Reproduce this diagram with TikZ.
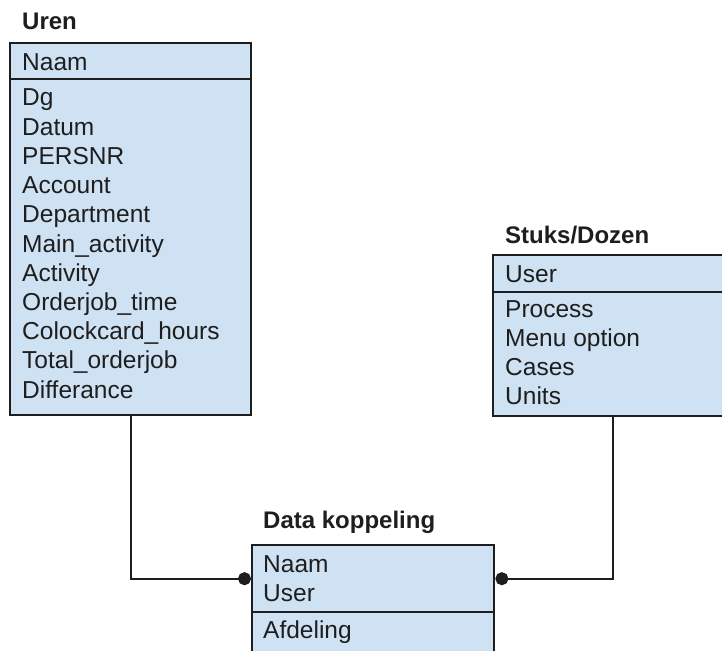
\documentclass[tikz,border=0pt]{standalone}
\usepackage{fontspec}
\setmainfont{Liberation Sans}
\usetikzlibrary{arrows.meta}
\definecolor{tablefill}{HTML}{CFE2F3}
\definecolor{ink}{HTML}{1E1E1E}

\begin{document}
\begin{tikzpicture}[
  x=1pt, y=-1pt,
  every node/.style = {font=\fontsize{24.5}{29}\selectfont, text=ink},
  title/.style = {anchor=base west, inner sep=0pt, font=\fontsize{24}{29}\selectfont\bfseries},
  cell/.style = {draw=ink, line width=2.4pt, fill=tablefill, anchor=north west, inner sep=0pt},
  field/.style = {anchor=base west, inner sep=0pt},
  link/.style = {draw=ink, line width=2.2pt}
]
  \useasboundingbox (0,0) rectangle (722,650);
  \clip (0,0) rectangle (722,650);

  % Uren
  \node[title] (uren) at (22,30) {Uren};
  \node[cell, minimum width=241, minimum height=36] (uren-head) at (9,42) {};
  \node[cell, minimum width=241, minimum height=336] (uren-body) at (9,78) {};
  \node[field] (uren-key) at (22,71) {Naam};
  \foreach \f [count=\i] in {Dg,Datum,PERSNR,Account,Department,Main\_activity,
      Activity,Orderjob\_time,Colockcard\_hours,Total\_orderjob,Differance}
    \node[field] (uren-\i) at (22,{106+29.2*(\i-1)}) {\f};

  % Stuks/Dozen
  \node[title] (stuks) at (505,243) {Stuks/Dozen};
  \node[cell, minimum width=240, minimum height=37] (stuks-head) at (492,254) {};
  \node[cell, minimum width=240, minimum height=124] (stuks-body) at (492,291) {};
  \node[field] (stuks-key) at (505,282) {User};
  \foreach \f [count=\i] in {Process,Menu option,Cases,Units}
    \node[field] (stuks-\i) at (505,{317+29.3*(\i-1)}) {\f};

  % Data koppeling
  \node[title] (koppeling) at (263,528) {Data koppeling};
  \node[cell, minimum width=242, minimum height=67] (koppeling-head) at (251,544) {};
  \node[cell, minimum width=242, minimum height=100] (koppeling-body) at (251,611) {};
  \node[field] (koppeling-key1) at (263,572) {Naam};
  \node[field] (koppeling-key2) at (263,601) {User};
  \node[field] (koppeling-1) at (263,638) {Afdeling};

  % koppelingen
  \draw[link, -{Circle[length=13pt,width=13pt]}] (uren-body.south) |- (koppeling-head.west);
  \draw[link, {Circle[length=13pt,width=13pt]}-] (koppeling-head.east) -| (stuks-body.south);
\end{tikzpicture}
\end{document}
